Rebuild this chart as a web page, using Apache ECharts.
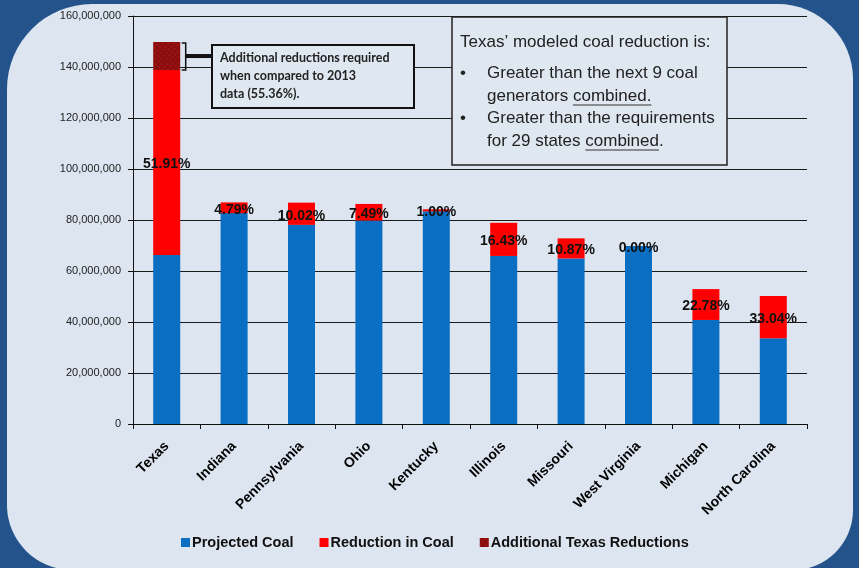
<!DOCTYPE html>
<html>
<head>
<meta charset="utf-8">
<title>Coal reduction by state</title>
<script src="https://cdn.jsdelivr.net/npm/echarts@6/dist/echarts.min.js"></script>
<style>
  html, body { margin: 0; padding: 0; background: #23538a; overflow: hidden; }
  /* rounded light panel behind the chart */
  #panel {
    position: absolute; left: 7px; top: 4px; width: 846px; height: 566px;
    background: #dce5f0; border-radius: 85px 75px 60px 65px;
  }
  #myChart { position: absolute; left: 0; top: 0; width: 859px; height: 568px; }
</style>
</head>
<body>
<div id="panel"></div>
<div id="myChart"></div>
<script>
// data
var states = ['Texas', 'Indiana', 'Pennsylvania', 'Ohio', 'Kentucky', 'Illinois', 'Missouri', 'West Virginia', 'Michigan', 'North Carolina']
var projectedCoal = [66300000, 82700000, 78100000, 79800000, 83400000, 65900000, 64900000, 69800000, 40800000, 33600000]
var reductionInCoal = [72500000, 4200000, 8700000, 6500000, 800000, 13000000, 7900000, 0, 12100000, 16600000]
var additionalTexas = [11000000, 0, 0, 0, 0, 0, 0, 0, 0, 0]
var reductionPct = ['51.91%', '4.79%', '10.02%', '7.49%', '1.00%', '16.43%', '10.87%', '0.00%', '22.78%', '33.04%']
var yMin = 0
var yMax = 160000000
var yStep = 20000000

var noteLines = ['Additional reductions required', 'when compared to 2013', 'data (55.36%).']
var boxTitle = 'Texas\u2019 modeled coal reduction is:'
var boxLines = ['Greater than the next 9 coal', 'generators combined.', 'Greater than the requirements', 'for 29 states combined.']

var myChart = echarts.init(document.getElementById('myChart'), null, { renderer: 'canvas' })

var option = {
  backgroundColor: 'transparent',
  animation: false,
  textStyle: { fontFamily: 'Liberation Sans' },
  grid: { left: 133, right: 52, top: 16, bottom: 144, containLabel: false, outerBoundsMode: 'none' },
  legend: {
    left: 176,
    top: 530,
    icon: 'rect',
    itemWidth: 9,
    itemHeight: 9,
    itemGap: 26,
    textStyle: { fontSize: 14.5, fontWeight: 'bold', color: '#111', fontFamily: 'Liberation Sans', padding: [0, 0, 0, -3] },
    data: ['Projected Coal', 'Reduction in Coal', 'Additional Texas Reductions']
  },
  xAxis: {
    type: 'category',
    data: states,
    axisLine: { lineStyle: { color: '#111', width: 1 } },
    axisTick: { show: true, length: 5, lineStyle: { color: '#111' } },
    axisLabel: {
      interval: 0,
      rotate: 45,
      margin: 20,
      color: '#000',
      fontWeight: 'bold',
      fontSize: 14,
      fontFamily: 'Liberation Sans'
    }
  },
  yAxis: {
    type: 'value',
    min: yMin,
    max: yMax,
    interval: yStep,
    axisLine: { show: true, lineStyle: { color: '#111', width: 1 } },
    axisTick: { show: true, length: 5, lineStyle: { color: '#111' } },
    axisLabel: {
      margin: 12,
      color: '#222',
      fontSize: 11,
      fontFamily: 'Liberation Sans',
      formatter: function (v) { return v.toLocaleString('en-US') }
    },
    splitLine: { show: true, lineStyle: { color: '#1a1a1a', width: 1 } }
  },
  series: [
    {
      name: 'Projected Coal',
      type: 'bar',
      stack: 'coal',
      barWidth: 27,
      itemStyle: { color: '#0a6fc2' },
      data: projectedCoal
    },
    {
      name: 'Reduction in Coal',
      type: 'bar',
      stack: 'coal',
      barWidth: 27,
      itemStyle: { color: '#ff0000' },
      label: {
        show: true,
        position: 'inside',
        offset: [0, 2],
        color: '#111',
        fontWeight: 'bold',
        fontSize: 14,
        fontFamily: 'Liberation Sans',
        formatter: function (p) { return reductionPct[p.dataIndex] }
      },
      data: reductionInCoal
    },
    {
      name: 'Additional Texas Reductions',
      type: 'bar',
      stack: 'coal',
      barWidth: 27,
      itemStyle: {
        color: '#8a0d0d',
        decal: {
          symbol: 'rect',
          symbolSize: 0.8,
          color: 'rgba(200, 40, 40, 0.55)',
          dashArrayX: [[2, 2]],
          dashArrayY: [2, 2],
          rotation: 0.7
        }
      },
      data: additionalTexas
    }
  ]
}

myChart.setOption(option)

// measure text for underline placement
var ctx = document.createElement('canvas').getContext('2d')
function textWidth (s, font) {
  ctx.font = font
  return ctx.measureText(s).width
}

// positions of the Texas extra-reduction segment, taken from the axes
var texX = myChart.convertToPixel({ xAxisIndex: 0 }, 0)
var redTop = myChart.convertToPixel({ yAxisIndex: 0 }, projectedCoal[0] + reductionInCoal[0])
var addTop = myChart.convertToPixel({ yAxisIndex: 0 }, projectedCoal[0] + reductionInCoal[0] + additionalTexas[0])
var brX = texX + 19
var brMid = (redTop + addTop) / 2

var noteFont = 'bold 12.5px Lato'
var boxFont = '17px "Liberation Sans"'
var bx = 487
var lineY = [73, 96, 118, 141]

var graphics = [
  // bracket and connector
  {
    type: 'polyline',
    z: 100,
    shape: { points: [[brX - 4, addTop + 1], [brX, addTop + 1], [brX, redTop], [brX - 4, redTop]] },
    style: { stroke: '#111', lineWidth: 1.5, fill: null }
  },
  {
    type: 'line',
    z: 100,
    shape: { x1: brX, y1: brMid, x2: 212, y2: brMid },
    style: { stroke: '#111', lineWidth: 4 }
  },
  // note box
  {
    type: 'rect',
    z: 100,
    shape: { x: 212, y: 45, width: 202, height: 63 },
    style: { fill: '#dfe7f1', stroke: '#111', lineWidth: 2 }
  },
  // big box
  {
    type: 'rect',
    z: 100,
    shape: { x: 452, y: 17, width: 275, height: 148 },
    style: { fill: '#dfe7f1', stroke: '#222', lineWidth: 1.5 }
  },
  {
    type: 'text',
    z: 101,
    x: 460,
    y: 42,
    style: { text: boxTitle, font: boxFont, fill: '#222', align: 'left', verticalAlign: 'middle' }
  }
]

noteLines.forEach(function (t, i) {
  graphics.push({
    type: 'text',
    z: 101,
    x: 220,
    y: 58 + i * 18,
    style: { text: t, font: noteFont, fill: '#222', align: 'left', verticalAlign: 'middle' }
  })
})

boxLines.forEach(function (t, i) {
  graphics.push({
    type: 'text',
    z: 101,
    x: bx,
    y: lineY[i],
    style: { text: t, font: boxFont, fill: '#222', align: 'left', verticalAlign: 'middle' }
  })
})

// bullets
;[0, 2].forEach(function (i) {
  graphics.push({
    type: 'text',
    z: 101,
    x: 460,
    y: lineY[i],
    style: { text: '\u2022', font: boxFont, fill: '#222', align: 'left', verticalAlign: 'middle' }
  })
})

// underlines
var u1x = bx + textWidth('generators ', boxFont)
var u1w = textWidth('combined.', boxFont)
var u2x = bx + textWidth('for 29 states ', boxFont)
var u2w = textWidth('combined', boxFont)
graphics.push({
  type: 'line', z: 101,
  shape: { x1: u1x, y1: lineY[1] + 9, x2: u1x + u1w, y2: lineY[1] + 9 },
  style: { stroke: '#333', lineWidth: 1 }
})
graphics.push({
  type: 'line', z: 101,
  shape: { x1: u2x, y1: lineY[3] + 9, x2: u2x + u2w, y2: lineY[3] + 9 },
  style: { stroke: '#333', lineWidth: 1 }
})

myChart.setOption({ graphic: { elements: graphics } })
</script>
</body>
</html>
